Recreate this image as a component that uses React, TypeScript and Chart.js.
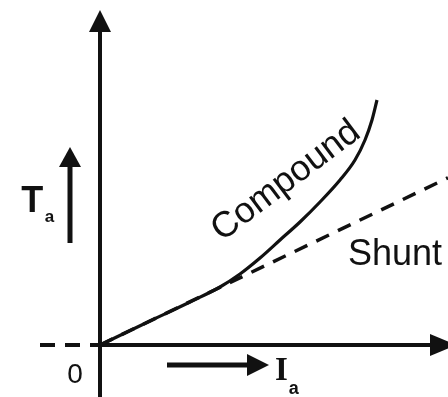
import React, { useEffect, useRef } from "react";
import { Chart, registerables } from "chart.js";

Chart.register(...registerables);

// Armature current Ia (arbitrary units) against torque Ta for two DC motors
const compoundCurrent = [0, 1.25, 2.25, 3.0, 3.5, 4.0, 4.5, 5.0, 5.5, 6.0, 6.375, 6.625, 6.8, 6.925];
const compoundTorque = [0, 0.6, 1.075, 1.45, 1.775, 2.175, 2.625, 3.075, 3.575, 4.125, 4.625, 5.125, 5.625, 6.125];
const shuntCurrent = [0, 8.7];
const shuntTorque = [0, 4.18];

const seriesNames = ["Compound", "Shunt"];
const originLabel = "0";
const torqueSymbol = "T";
const currentSymbol = "I";
const subscript = "a";

const INK = "#111111";

const toPoints = (xs: number[], ys: number[]) => xs.map((x, i) => ({ x, y: ys[i] }));

function arrow(
  ctx: CanvasRenderingContext2D,
  x0: number, y0: number, x1: number, y1: number,
  headLen: number, halfWidth: number, lineWidth: number
) {
  const ang = Math.atan2(y1 - y0, x1 - x0);
  const bx = x1 - Math.cos(ang) * headLen;
  const by = y1 - Math.sin(ang) * headLen;
  ctx.save();
  ctx.strokeStyle = INK;
  ctx.fillStyle = INK;
  ctx.lineWidth = lineWidth;
  ctx.lineCap = "butt";
  ctx.beginPath();
  ctx.moveTo(x0, y0);
  ctx.lineTo(bx + Math.cos(ang) * 2, by + Math.sin(ang) * 2);
  ctx.stroke();
  ctx.beginPath();
  ctx.moveTo(x1, y1);
  ctx.lineTo(bx - Math.sin(ang) * halfWidth, by + Math.cos(ang) * halfWidth);
  ctx.lineTo(bx + Math.sin(ang) * halfWidth, by - Math.cos(ang) * halfWidth);
  ctx.closePath();
  ctx.fill();
  ctx.restore();
}

const axesPlugin = {
  id: "motorAxes",
  beforeDatasetsDraw(chart: any) {
    const { ctx } = chart;
    const xs = chart.scales.x;
    const ys = chart.scales.y;
    const X = (v: number) => xs.getPixelForValue(v);
    const Y = (v: number) => ys.getPixelForValue(v);

    // torque axis
    arrow(ctx, X(0), Y(ys.min), X(0), Y(8.375), 22, 11, 4);
    // current axis
    arrow(ctx, X(0), Y(0), X(8.9), Y(0), 26, 11, 4);
    // dashed extension left of the origin
    ctx.save();
    ctx.strokeStyle = INK;
    ctx.lineWidth = 4;
    ctx.setLineDash([15, 10]);
    ctx.beginPath();
    ctx.moveTo(X(-1.5), Y(0));
    ctx.lineTo(X(0), Y(0));
    ctx.stroke();
    ctx.restore();
  },
  afterDatasetsDraw(chart: any) {
    const { ctx } = chart;
    const xs = chart.scales.x;
    const ys = chart.scales.y;
    const X = (v: number) => xs.getPixelForValue(v);
    const Y = (v: number) => ys.getPixelForValue(v);

    // small direction arrows beside the symbols
    arrow(ctx, X(-0.75), Y(2.55), X(-0.75), Y(4.95), 20, 11, 5);
    arrow(ctx, X(1.675), Y(-0.5), X(4.225), Y(-0.5), 22, 11, 5);

    ctx.save();
    ctx.fillStyle = INK;

    // curve names
    ctx.save();
    ctx.translate(X(4.65), Y(4.1));
    ctx.rotate((-37 * Math.PI) / 180);
    ctx.font = "36px 'Liberation Sans', Arial, sans-serif";
    ctx.textAlign = "center";
    ctx.textBaseline = "middle";
    ctx.fillText(seriesNames[0], 0, 0);
    ctx.restore();

    ctx.font = "36px 'Liberation Sans', Arial, sans-serif";
    ctx.textAlign = "left";
    ctx.textBaseline = "alphabetic";
    ctx.fillText(seriesNames[1], X(6.2), Y(2.0));

    // origin
    ctx.font = "28px 'Liberation Sans', Arial, sans-serif";
    ctx.textAlign = "center";
    ctx.fillText(originLabel, X(-0.625), Y(-0.95));

    // Ta
    ctx.textAlign = "left";
    ctx.font = "bold 36px 'Liberation Sans', Arial, sans-serif";
    ctx.fillText(torqueSymbol, X(-1.97), Y(3.325));
    ctx.font = "bold 17px 'Liberation Sans', Arial, sans-serif";
    ctx.fillText(subscript, X(-1.38), Y(3.07));

    // Ia
    ctx.font = "bold 33px 'Liberation Serif', 'Times New Roman', serif";
    ctx.fillText(currentSymbol, X(4.375), Y(-0.875));
    ctx.font = "bold 18px 'Liberation Sans', Arial, sans-serif";
    ctx.fillText(subscript, X(4.72), Y(-1.22));

    ctx.restore();
  },
};

export default function App() {
  const canvasRef = useRef<HTMLCanvasElement | null>(null);

  useEffect(() => {
    document.body.style.margin = "0";
    document.body.style.background = "#ffffff";
    const canvas = canvasRef.current;
    if (!canvas) return;
    const chart = new Chart(canvas, {
      type: "line",
      data: {
        datasets: [
          {
            label: seriesNames[0],
            data: toPoints(compoundCurrent, compoundTorque),
            borderColor: INK,
            borderWidth: 3.2,
            pointRadius: 0,
            fill: false,
            cubicInterpolationMode: "monotone",
            clip: false,
          },
          {
            label: seriesNames[1],
            data: toPoints(shuntCurrent, shuntTorque),
            borderColor: INK,
            borderWidth: 3.5,
            borderDash: [14, 10],
            pointRadius: 0,
            fill: false,
            clip: false,
          },
        ],
      },
      options: {
        responsive: false,
        animation: false,
        layout: { padding: 0 },
        plugins: {
          legend: { display: false },
          tooltip: { enabled: false },
          title: { display: false },
        },
        scales: {
          x: { type: "linear", min: -2.5, max: 8.7, display: false },
          y: { type: "linear", min: -1.3, max: 8.625, display: false },
        },
      },
      plugins: [axesPlugin],
    } as any);
    return () => chart.destroy();
  }, []);

  return (
    <div style={{ position: "absolute", left: 0, top: 0, width: 448, height: 397, background: "#fff" }}>
      <canvas ref={canvasRef} width={448} height={397} />
    </div>
  );
}
